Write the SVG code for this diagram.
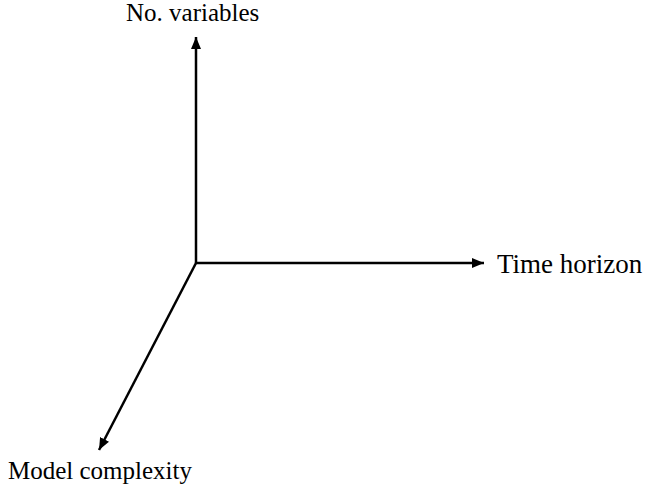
<svg xmlns="http://www.w3.org/2000/svg" width="646" height="490" viewBox="0 0 646 490">
<defs>
<style>
.axis{stroke:#000;stroke-width:2.5;fill:none}
text{font-family:'Liberation Serif','Times New Roman',Times,serif;fill:#000}
</style>
<marker id="ah" viewBox="0 0 12 10" refX="12" refY="5" markerWidth="12" markerHeight="10" markerUnits="userSpaceOnUse" orient="auto">
<path d="M0,0 L12,5 L0,10 Z" fill="#000"/>
</marker>
</defs>
<rect width="646" height="490" fill="#fff"/>
<g id="connectors">
<line class="axis" x1="196" y1="263" x2="196" y2="37" marker-end="url(#ah)"/>
<line class="axis" x1="195" y1="263" x2="484" y2="263" marker-end="url(#ah)"/>
<line class="axis" x1="196" y1="263" x2="99" y2="450" marker-end="url(#ah)"/>
</g>
<g id="node-y"><text x="126" y="21" font-size="25" font-family="Liberation Serif, serif">No. variables</text></g>
<g id="node-x"><text x="497" y="273" font-size="27" font-family="Liberation Serif, serif">Time horizon</text></g>
<g id="node-z"><text x="8" y="479" font-size="25" font-family="Liberation Serif, serif">Model complexity</text></g>
</svg>
